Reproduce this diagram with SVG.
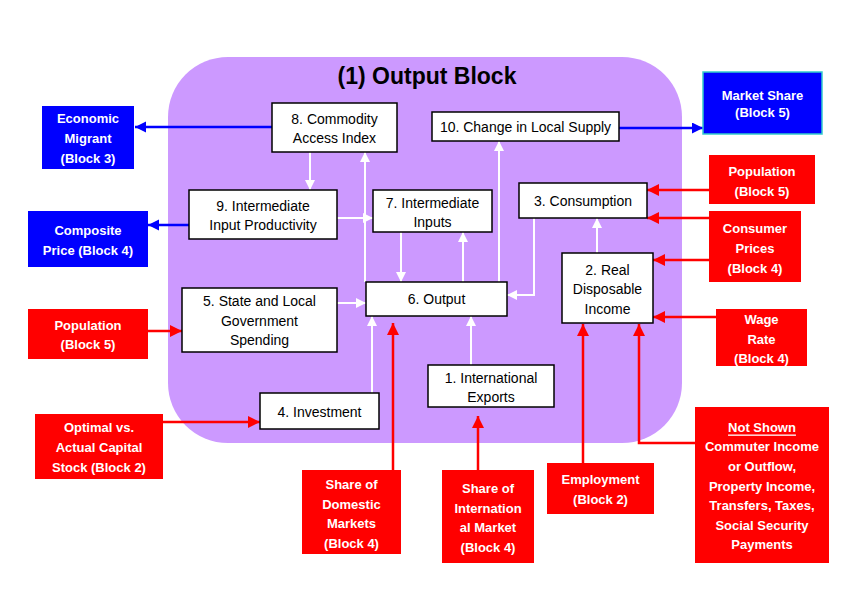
<svg xmlns="http://www.w3.org/2000/svg" width="847" height="595" viewBox="0 0 847 595">
<style>
.nb{fill:#fff;stroke:#000;stroke-width:1.5}
.rb{fill:#ff0000;stroke:none}
.bb{fill:#0000ff;stroke:none}
.t{font-family:"Liberation Sans",Arial,sans-serif;font-size:14px;fill:#000;text-anchor:middle;dominant-baseline:central}
.w{font-family:"Liberation Sans",Arial,sans-serif;font-size:13px;font-weight:bold;fill:#fff;text-anchor:middle;dominant-baseline:central}
.wl{stroke:#fff;stroke-width:2;fill:none}
.rl{stroke:#ff0000;stroke-width:2.5;fill:none}
.bl{stroke:#0000ff;stroke-width:2.5;fill:none}
</style>
<defs>
<marker id="aw" markerUnits="userSpaceOnUse" markerWidth="12" markerHeight="12" refX="10" refY="5" orient="auto"><path d="M0,0 L10,5 L0,10 z" fill="#fff"/></marker>
<marker id="ar" markerUnits="userSpaceOnUse" markerWidth="14" markerHeight="14" refX="12" refY="6" orient="auto"><path d="M0,0 L12,6 L0,12 z" fill="#ff0000"/></marker>
<marker id="ab" markerUnits="userSpaceOnUse" markerWidth="14" markerHeight="14" refX="11" refY="5.5" orient="auto"><path d="M0,0 L11,5.5 L0,11 z" fill="#0000ff"/></marker>
</defs>
<rect width="847" height="595" fill="#fff"/>
<g id="block">
<rect x="168" y="57" width="514" height="386" rx="60" ry="60" fill="#cc99ff"/>
<text x="427" y="76" font-family="'Liberation Sans',Arial,sans-serif" font-size="23" font-weight="bold" text-anchor="middle" dominant-baseline="central" fill="#000">(1) Output Block</text>
</g>
<g id="connectors">
<line class="wl" x1="310" y1="152" x2="310" y2="190" marker-end="url(#aw)"/>
<line class="wl" x1="365" y1="282" x2="365" y2="152" marker-end="url(#aw)"/>
<line class="wl" x1="337" y1="218" x2="373" y2="218" marker-end="url(#aw)"/>
<line class="wl" x1="401" y1="232" x2="401" y2="282" marker-end="url(#aw)"/>
<line class="wl" x1="463" y1="282" x2="463" y2="232" marker-end="url(#aw)"/>
<line class="wl" x1="499" y1="282" x2="499" y2="141" marker-end="url(#aw)"/>
<polyline class="wl" points="534,218 534,295 507,295" marker-end="url(#aw)"/>
<line class="wl" x1="597" y1="253" x2="597" y2="218" marker-end="url(#aw)"/>
<line class="wl" x1="337" y1="303" x2="366" y2="303" marker-end="url(#aw)"/>
<line class="wl" x1="372" y1="393" x2="372" y2="316" marker-end="url(#aw)"/>
<line class="wl" x1="471" y1="365" x2="471" y2="316" marker-end="url(#aw)"/>
<line class="bl" x1="272" y1="127" x2="135" y2="127" marker-end="url(#ab)"/>
<line class="bl" x1="189" y1="225" x2="148" y2="225" marker-end="url(#ab)"/>
<line class="bl" x1="619" y1="128" x2="703" y2="128" marker-end="url(#ab)"/>
<line class="rl" x1="709" y1="190" x2="647" y2="190" marker-end="url(#ar)"/>
<line class="rl" x1="709" y1="218" x2="647" y2="218" marker-end="url(#ar)"/>
<line class="rl" x1="709" y1="260" x2="653" y2="260" marker-end="url(#ar)"/>
<line class="rl" x1="716" y1="317" x2="653" y2="317" marker-end="url(#ar)"/>
<line class="rl" x1="148" y1="331" x2="182" y2="331" marker-end="url(#ar)"/>
<line class="rl" x1="163" y1="422" x2="260" y2="422" marker-end="url(#ar)"/>
<line class="rl" x1="393" y1="470" x2="393" y2="323" marker-end="url(#ar)"/>
<line class="rl" x1="478" y1="470" x2="478" y2="416" marker-end="url(#ar)"/>
<line class="rl" x1="583" y1="463" x2="583" y2="324" marker-end="url(#ar)"/>
<polyline class="rl" points="695,443 639,443 639,324" marker-end="url(#ar)"/>
</g>
<g id="n8"><rect class="nb" x="272" y="103" width="125" height="49"/><text class="t" x="334.5" y="119">8. Commodity</text><text class="t" x="334.5" y="138">Access Index</text></g>
<g id="n10"><rect class="nb" x="432" y="112" width="187" height="29"/><text class="t" x="525.5" y="127">10. Change in Local Supply</text></g>
<g id="n9"><rect class="nb" x="189" y="190" width="148" height="49"/><text class="t" x="263" y="206">9. Intermediate</text><text class="t" x="263" y="225">Input Productivity</text></g>
<g id="n7"><rect class="nb" x="373" y="190" width="119" height="42"/><text class="t" x="432.5" y="203">7. Intermediate</text><text class="t" x="432.5" y="222">Inputs</text></g>
<g id="n3"><rect class="nb" x="519" y="183" width="128" height="35"/><text class="t" x="583" y="201">3. Consumption</text></g>
<g id="n2"><rect class="nb" x="562" y="253" width="91" height="70"/><text class="t" x="607.5" y="270">2. Real</text><text class="t" x="607.5" y="289">Disposable</text><text class="t" x="607.5" y="309">Income</text></g>
<g id="n6"><rect class="nb" x="366" y="282" width="141" height="34"/><text class="t" x="436.5" y="299">6. Output</text></g>
<g id="n5"><rect class="nb" x="182" y="288" width="155" height="64"/><text class="t" x="259.5" y="301">5. State and Local</text><text class="t" x="259.5" y="321">Government</text><text class="t" x="259.5" y="340">Spending</text></g>
<g id="n1"><rect class="nb" x="428" y="365" width="126" height="42"/><text class="t" x="491" y="378">1. International</text><text class="t" x="491" y="397">Exports</text></g>
<g id="n4"><rect class="nb" x="260" y="393" width="119" height="36"/><text class="t" x="319.5" y="412">4. Investment</text></g>
<g id="econMigrant"><rect class="bb" x="42" y="106" width="92" height="63"/><text class="w" x="88" y="118">Economic</text><text class="w" x="88" y="138">Migrant</text><text class="w" x="88" y="158">(Block 3)</text></g>
<g id="compositePrice"><rect class="bb" x="28" y="211" width="120" height="56"/><text class="w" x="88" y="230">Composite</text><text class="w" x="88" y="250">Price (Block 4)</text></g>
<g id="marketShare"><rect x="703" y="72" width="119" height="62" fill="#0000ff" stroke="#33cccc" stroke-width="1.5"/><text class="w" x="762.5" y="95" font-size="12">Market Share</text><text class="w" x="762.5" y="112" font-size="12">(Block 5)</text></g>
<g id="popRight"><rect class="rb" x="709" y="155" width="106" height="49"/><text class="w" x="762" y="171">Population</text><text class="w" x="762" y="191">(Block 5)</text></g>
<g id="consumerPrices"><rect class="rb" x="709" y="211" width="92" height="71"/><text class="w" x="755" y="228">Consumer</text><text class="w" x="755" y="248">Prices</text><text class="w" x="755" y="268">(Block 4)</text></g>
<g id="wageRate"><rect class="rb" x="716" y="309" width="91" height="57"/><text class="w" x="761.5" y="319">Wage</text><text class="w" x="761.5" y="339">Rate</text><text class="w" x="761.5" y="358">(Block 4)</text></g>
<g id="popLeft"><rect class="rb" x="28" y="309" width="120" height="50"/><text class="w" x="88" y="325">Population</text><text class="w" x="88" y="344">(Block 5)</text></g>
<g id="optimal"><rect class="rb" x="35" y="414" width="128" height="65"/><text class="w" x="99" y="427">Optimal vs.</text><text class="w" x="99" y="447">Actual Capital</text><text class="w" x="99" y="467">Stock (Block 2)</text></g>
<g id="shareDomestic"><rect class="rb" x="302" y="470" width="99" height="84"/><text class="w" x="351.5" y="484">Share of</text><text class="w" x="351.5" y="504">Domestic</text><text class="w" x="351.5" y="523">Markets</text><text class="w" x="351.5" y="543">(Block 4)</text></g>
<g id="shareIntl"><rect class="rb" x="442" y="470" width="92" height="93"/><text class="w" x="488" y="488">Share of</text><text class="w" x="488" y="508">Internation</text><text class="w" x="488" y="527">al Market</text><text class="w" x="488" y="547">(Block 4)</text></g>
<g id="employment"><rect class="rb" x="547" y="463" width="107" height="51"/><text class="w" x="600.5" y="479">Employment</text><text class="w" x="600.5" y="499">(Block 2)</text></g>
<g id="notShown"><rect class="rb" x="695" y="407" width="134" height="156"/><text class="w" x="762" y="427" text-decoration="underline">Not Shown</text><text class="w" x="762" y="446">Commuter Income</text><text class="w" x="762" y="466">or Outflow,</text><text class="w" x="762" y="486">Property Income,</text><text class="w" x="762" y="505">Transfers, Taxes,</text><text class="w" x="762" y="525">Social Security</text><text class="w" x="762" y="544">Payments</text></g>
</svg>
